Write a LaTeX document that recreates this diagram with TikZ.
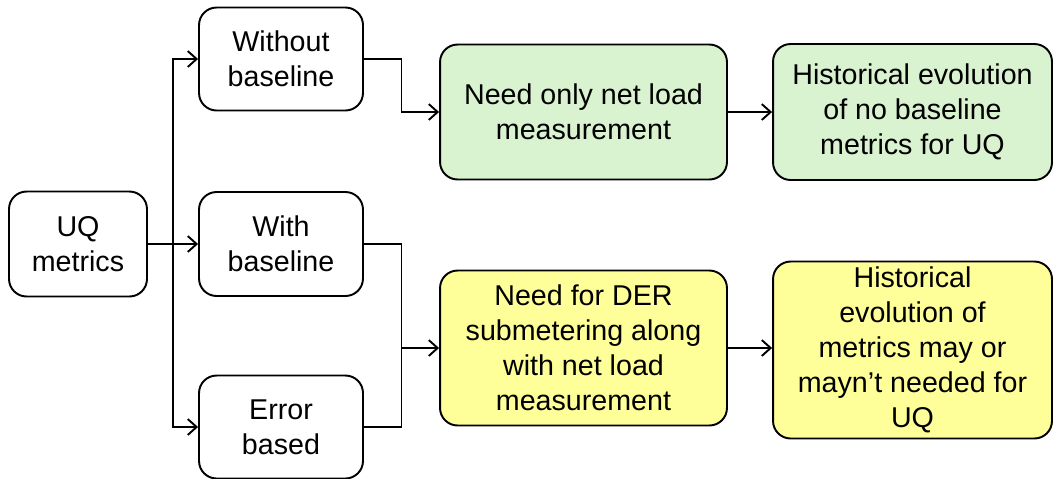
\documentclass[tikz,border=0pt]{standalone}
\usepackage{fontspec}
\setmainfont{Liberation Sans}
\usepackage{tikz}
\usetikzlibrary{arrows.meta,calc}
\definecolor{boxgreen}{HTML}{D9F2D0}
\definecolor{boxyellow}{HTML}{FFFF99}
\tikzset{
  box/.style = {draw, line width=1.1pt, rounded corners=10pt, align=center,
                inner sep=2pt, font=\fontsize{16.3}{19.9}\selectfont},
  greenbox/.style = {box, fill=boxgreen},
  yellowbox/.style = {box, fill=boxyellow},
  arr/.style = {line width=1.1pt, -{Straight Barb[length=5pt,width=9pt,line width=1.1pt]}}
}

\begin{document}
\begin{tikzpicture}[x=0.02cm,y=-0.02cm]
	\useasboundingbox (0,0) rectangle (1053,478);
	% left part
	\node[box, minimum width=2.76cm, minimum height=2.1cm] (uq) at (78,244) {UQ\\metrics};
	\node[box, minimum width=3.28cm, minimum height=2.06cm] (wo) at (281,59) {Without\\baseline};
	\node[box, minimum width=3.28cm, minimum height=2.08cm] (wi) at (281,244) {With\\baseline};
	\node[box, minimum width=3.28cm, minimum height=2.06cm] (err) at (281,427) {Error\\based};
	% right part
	\node[greenbox, minimum width=5.74cm, minimum height=2.7cm] (need1) at (583.5,112) {Need only net load\\measurement};
	\node[greenbox, minimum width=5.58cm, minimum height=2.72cm] (hist1) at (912.5,112) {Historical evolution\\of no baseline\\metrics for UQ};
	\node[yellowbox, minimum width=5.74cm, minimum height=3.1cm] (need2) at (583.5,348) {Need for DER\\submetering along\\with net load\\measurement};
	\node[yellowbox, minimum width=5.58cm, minimum height=3.54cm] (hist2) at (912.5,350) {Historical\\evolution of\\metrics may or\\mayn’t needed for\\UQ};

	\coordinate (split) at ($(uq.east)!0.5!(wi.west)$);
	\coordinate (merge) at ($(wi.east)!0.5!(need2.west)$);

	\draw[arr] (uq.east) -- (wi.west);
	\draw[arr] (split) |- (wo.west);
	\draw[arr] (split) |- (err.west);

	\draw[arr] (wo.east) -- (wo.east -| merge) |- (need1.west);
	\draw[line width=1.1pt] (wi.east) -| (merge |- err.east) -- (err.east);
	\draw[arr] (merge |- need2.west) -- (need2.west);

	\draw[arr] (need1) -- (hist1);
	\draw[arr] (need2.east) -- (need2.east -| hist2.west);
\end{tikzpicture}
\end{document}
